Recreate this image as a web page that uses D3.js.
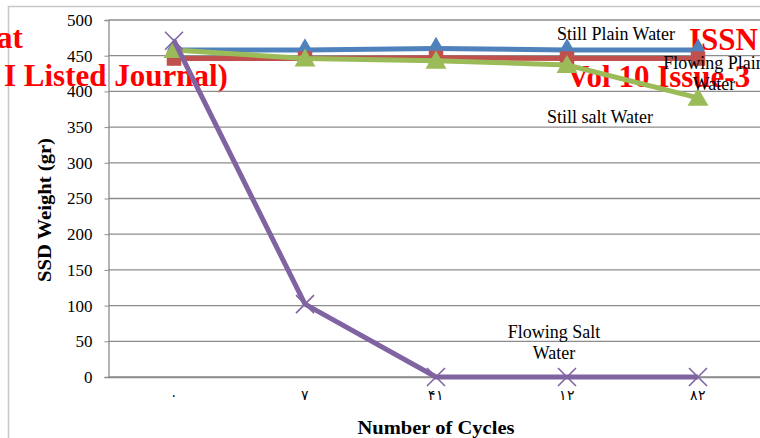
<!DOCTYPE html>
<html>
<head>
<meta charset="utf-8">
<script src="https://cdn.jsdelivr.net/npm/d3@7"></script>
<style>
  html, body { margin: 0; padding: 0; background: #fff; }
  svg { display: block; }
  text { font-family: "Liberation Serif", "Times New Roman", serif; }
</style>
</head>
<body>
<svg id="chart" width="760" height="438"></svg>
<script>
// Cycle labels (as printed on the axis) and SSD weight per series
const cycles = ["۰", "۷", "۴۱", "۱۲", "۸۲"];
const seriesNames = ["Still Plain Water", "Flowing Plain Water", "Still salt Water", "Flowing Salt Water"];
const stillPlain   = [458, 458, 460, 458, 458];
const flowingPlain = [446, 446, 447, 446, 446];
const stillSalt    = [458, 446, 443, 437, 391];
const flowingSalt  = [471, 102, 0, 0, 0];
const yTicks = [0, 50, 100, 150, 200, 250, 300, 350, 400, 450, 500];

const series = [
  { name: seriesNames[0], values: stillPlain,   color: "#4F81BD", marker: "diamond" },
  { name: seriesNames[1], values: flowingPlain, color: "#C0504D", marker: "square" },
  { name: seriesNames[2], values: stillSalt,    color: "#9BBB59", marker: "triangle" },
  { name: seriesNames[3], values: flowingSalt,  color: "#8064A2", marker: "cross" }
];

const svg = d3.select("#chart");
const plot = { left: 108.5, right: 763.5, top: 20, bottom: 377 };

const x = d3.scaleBand().domain(cycles).range([plot.left, plot.right]).padding(0);
const cx = c => x(c) + x.bandwidth() / 2;
const y = d3.scaleLinear().domain([0, 500]).range([plot.bottom, plot.top]);

// outer chart frame
svg.append("rect")
  .attr("x", 8.5).attr("y", 6.5).attr("width", 800).attr("height", 500)
  .attr("fill", "none").attr("stroke", "#c8c8c8").attr("stroke-width", 1.5);

// overprinted header text in red
const banner = svg.append("g").attr("fill", "#ff0000")
  .attr("font-weight", "bold").attr("font-size", 31);
banner.append("text").attr("x", -3).attr("y", 48).text("at");
banner.append("text").attr("x", 4).attr("y", 86).text("I Listed Journal)");
banner.append("text").attr("x", 689).attr("y", 50).text("ISSN");
banner.append("text").attr("x", 567).attr("y", 87).text("Vol 10 Issue-3");

// horizontal gridlines
svg.append("g").selectAll("line").data(yTicks).join("line")
  .attr("x1", plot.left).attr("x2", plot.right)
  .attr("y1", d => y(d)).attr("y2", d => y(d))
  .attr("stroke", "#8c8c8c").attr("stroke-width", 1.3);

// y axis
const yAxis = svg.append("g").attr("transform", `translate(${plot.left},0)`)
  .call(d3.axisLeft(y).tickValues(yTicks).tickSize(4).tickPadding(12));
yAxis.attr("font-family", null);
yAxis.select(".domain").attr("stroke", "#8c8c8c").attr("stroke-width", 1.3);
yAxis.selectAll(".tick line").attr("stroke", "#8c8c8c");
yAxis.selectAll(".tick text")
  .attr("font-family", "Liberation Serif").attr("font-size", 17).attr("fill", "#000");

// x axis
const xAxis = svg.append("g").attr("transform", `translate(0,${plot.bottom})`)
  .call(d3.axisBottom(x).tickSize(0).tickPadding(13));
xAxis.attr("font-family", null);
xAxis.select(".domain").attr("stroke", "#8c8c8c").attr("stroke-width", 1.3);
xAxis.selectAll(".tick text")
  .attr("font-family", "DejaVu Serif, DejaVu Sans, serif").attr("font-size", 14).attr("fill", "#000");

// axis titles
svg.append("text")
  .attr("transform", `translate(51,210) rotate(-90)`)
  .attr("text-anchor", "middle").attr("font-weight", "bold").attr("font-size", 18)
  .attr("textLength", 144).attr("lengthAdjust", "spacingAndGlyphs")
  .text("SSD Weight (gr)");
svg.append("text")
  .attr("x", 436).attr("y", 434)
  .attr("text-anchor", "middle").attr("font-weight", "bold").attr("font-size", 18)
  .attr("textLength", 157).attr("lengthAdjust", "spacingAndGlyphs")
  .text("Number of Cycles");

// series lines and markers
const line = d3.line().x((d, i) => cx(cycles[i])).y(d => y(d));
const symbolFor = {
  diamond:  d3.symbol().type(d3.symbolDiamond).size(160),
  square:   d3.symbol().type(d3.symbolSquare).size(210),
  triangle: d3.symbol().type(d3.symbolTriangle).size(190)
};

series.forEach(s => {
  const g = svg.append("g");
  g.append("path").datum(s.values)
    .attr("d", line).attr("fill", "none")
    .attr("stroke", s.color).attr("stroke-width", 5).attr("stroke-linejoin", "round");
  if (s.marker === "cross") {
    const r = 9;
    g.selectAll("path.mk").data(s.values).join("path").attr("class", "mk")
      .attr("d", (d, i) => {
        const px = cx(cycles[i]), py = y(d);
        return `M${px - r},${py - r}L${px + r},${py + r}M${px - r},${py + r}L${px + r},${py - r}`;
      })
      .attr("stroke", s.color).attr("stroke-width", 1.6).attr("fill", "none");
  } else {
    g.selectAll("path.mk").data(s.values).join("path").attr("class", "mk")
      .attr("d", symbolFor[s.marker])
      .attr("transform", (d, i) => `translate(${cx(cycles[i])},${y(d) + (s.marker === "triangle" ? 2 : 0)})`)
      .attr("fill", s.color);
  }
});

// series name labels placed beside their points
const labels = [
  { lines: [seriesNames[0]], xi: 3, v: stillPlain[3], dx: 49, dy: -10 },
  { lines: ["Flowing Plain", "Water"], xi: 4, v: flowingPlain[4], dx: 16, dy: 10 },
  { lines: [seriesNames[2]], xi: 3, v: stillSalt[3], dx: 33, dy: 58 },
  { lines: ["Flowing Salt", "Water"], xi: 2, v: flowingSalt[2], dx: 118, dy: -39 }
];
labels.forEach(l => {
  const t = svg.append("text")
    .attr("text-anchor", "middle").attr("font-size", 18).attr("fill", "#000");
  l.lines.forEach((ln, k) => {
    t.append("tspan")
      .attr("x", cx(cycles[l.xi]) + l.dx)
      .attr("y", y(l.v) + l.dy + k * 21)
      .text(ln);
  });
});
</script>
</body>
</html>
